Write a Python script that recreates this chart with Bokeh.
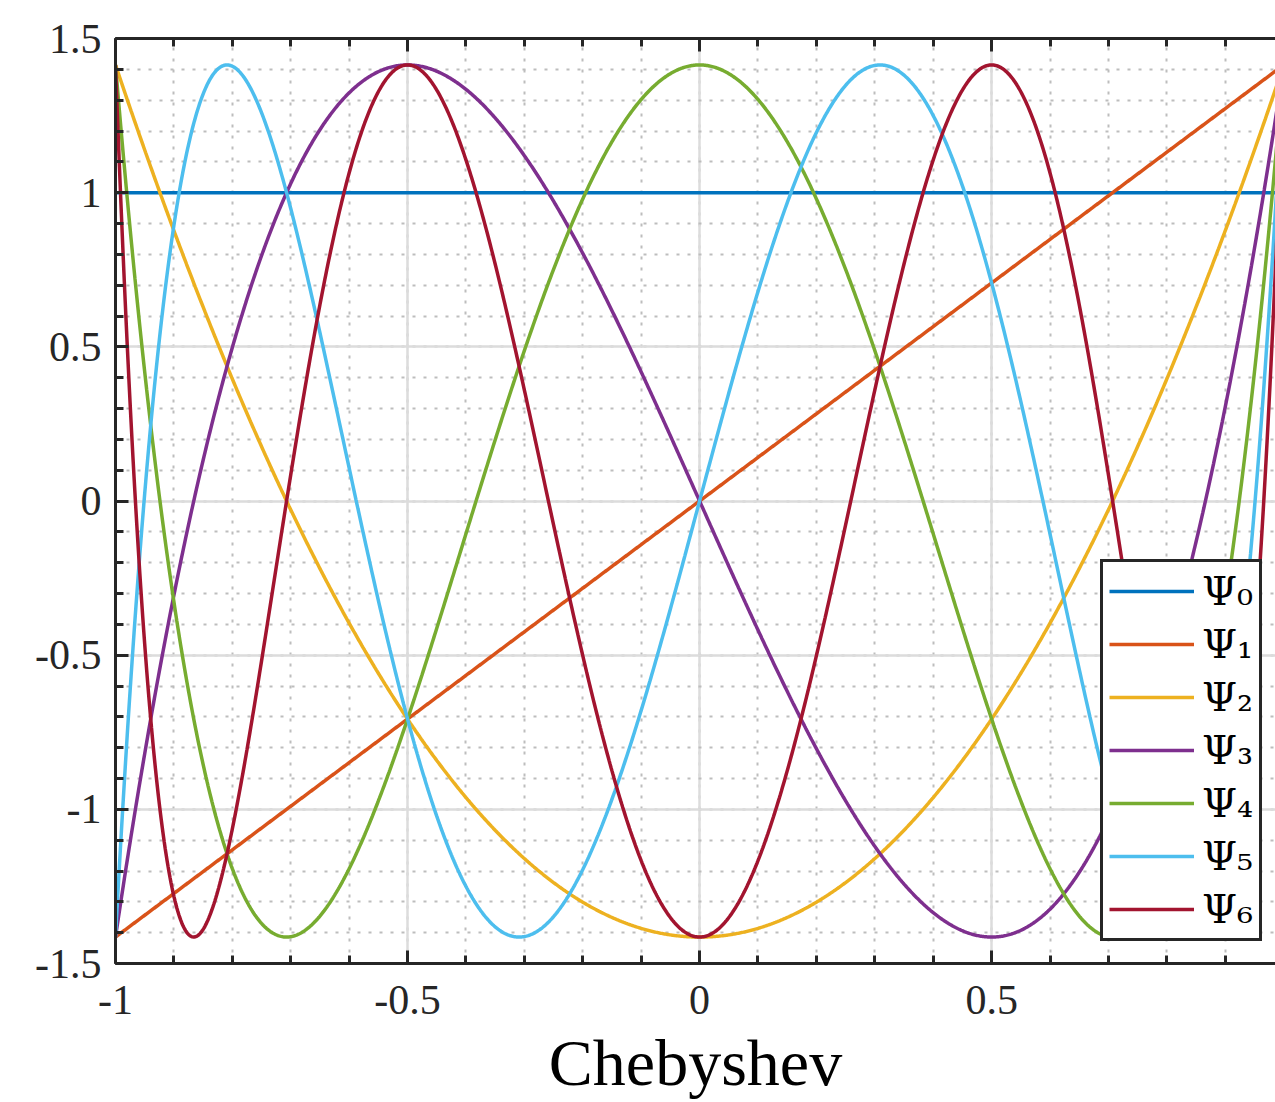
import numpy as np
from numpy.polynomial import chebyshev as C
from bokeh.plotting import figure
from bokeh.models import (Range1d, LinearAxis, SingleIntervalTicker, Legend, LegendItem)
from bokeh.embed import file_html
from bokeh.resources import INLINE

# ---- data ----
series_names = ["Ψ₀", "Ψ₁", "Ψ₂", "Ψ₃", "Ψ₄", "Ψ₅", "Ψ₆"]
degrees = [0, 1, 2, 3, 4, 5, 6]                 # Chebyshev degree of each series
norms = [1.0] + [np.sqrt(2.0)] * 6               # orthonormal scaling
colors = ["#0072BD", "#D95319", "#EDB120", "#7E2F8E", "#77AC30", "#4DBEEE", "#A2142F"]
x_ticks = [-1, -0.5, 0, 0.5]
x_tick_labels = ["-1", "-0.5", "0", "0.5"]
y_ticks = [-1.5, -1, -0.5, 0, 0.5, 1, 1.5]
y_tick_labels = ["-1.5", "-1", "-0.5", "0", "0.5", "1", "1.5"]
x_label = "Chebyshev"

x = np.linspace(-1.0, 1.0, 1201)

AX = "#262626"
FONT = "Liberation Serif"

p = figure(width=1275, height=1102,
           x_range=Range1d(-1.0, 0.986), y_range=Range1d(-1.5, 1.5),
           output_backend="svg", toolbar_location=None,
           min_border_left=115, min_border_right=0,
           min_border_top=38, min_border_bottom=139,
           outline_line_color=None, background_fill_color="white",
           border_fill_color="white")

xt = SingleIntervalTicker(interval=0.5, num_minor_ticks=5)
yt = SingleIntervalTicker(interval=0.5, num_minor_ticks=5)

xa = p.xaxis[0]
ya = p.yaxis[0]
xa.ticker = xt
ya.ticker = yt
xa.major_label_overrides = {t: s for t, s in zip(x_ticks, x_tick_labels)}
ya.major_label_overrides = {t: s for t, s in zip(y_ticks, y_tick_labels)}

top = LinearAxis(ticker=SingleIntervalTicker(interval=0.5, num_minor_ticks=5))
top.major_label_overrides = {t: "" for t in x_ticks}
top.major_label_standoff = 0
p.add_layout(top, "above")

for ax in (xa, ya, top):
    ax.axis_line_color = AX
    ax.axis_line_width = 3
    ax.major_tick_line_color = AX
    ax.minor_tick_line_color = AX
    ax.major_tick_line_width = 3
    ax.minor_tick_line_width = 3
    ax.major_tick_in = 13
    ax.major_tick_out = 0
    ax.minor_tick_in = 8
    ax.minor_tick_out = 0
    ax.major_label_text_color = AX
    ax.major_label_text_font = FONT

xa.major_label_text_font_size = "42px"
ya.major_label_text_font_size = "42px"
xa.major_label_standoff = 22
ya.major_label_standoff = 14

xa.axis_label = x_label
xa.axis_label_text_font = FONT
xa.axis_label_text_font_size = "66px"
xa.axis_label_text_font_style = "normal"
xa.axis_label_text_color = "black"
xa.axis_label_standoff = 9

for g in (p.xgrid[0], p.ygrid[0]):
    g.grid_line_color = "#dcdcdc"
    g.grid_line_width = 2.5
    g.minor_grid_line_color = "#bdbdbd"
    g.minor_grid_line_width = 2
    g.minor_grid_line_dash = "3 8"
p.xgrid[0].ticker = xt
p.ygrid[0].ticker = yt

items = []
for name, n, s, c in zip(series_names, degrees, norms, colors):
    coef = np.zeros(n + 1)
    coef[n] = s
    y = C.chebval(x, coef)
    r = p.line(x, y, line_color=c, line_width=3.5)
    items.append(LegendItem(label=name, renderers=[r]))

legend = Legend(items=items, location=(985, 22), margin=0,
                padding=6, spacing=7, glyph_width=85, glyph_height=40,
                label_height=40, label_standoff=8,
                label_text_font="DejaVu Serif", label_text_font_size="40px",
                label_text_color="black",
                border_line_color=AX, border_line_width=3, border_line_alpha=1.0,
                background_fill_color="white", background_fill_alpha=1.0)
p.add_layout(legend)

open("out.html", "w").write(file_html(p, INLINE))
